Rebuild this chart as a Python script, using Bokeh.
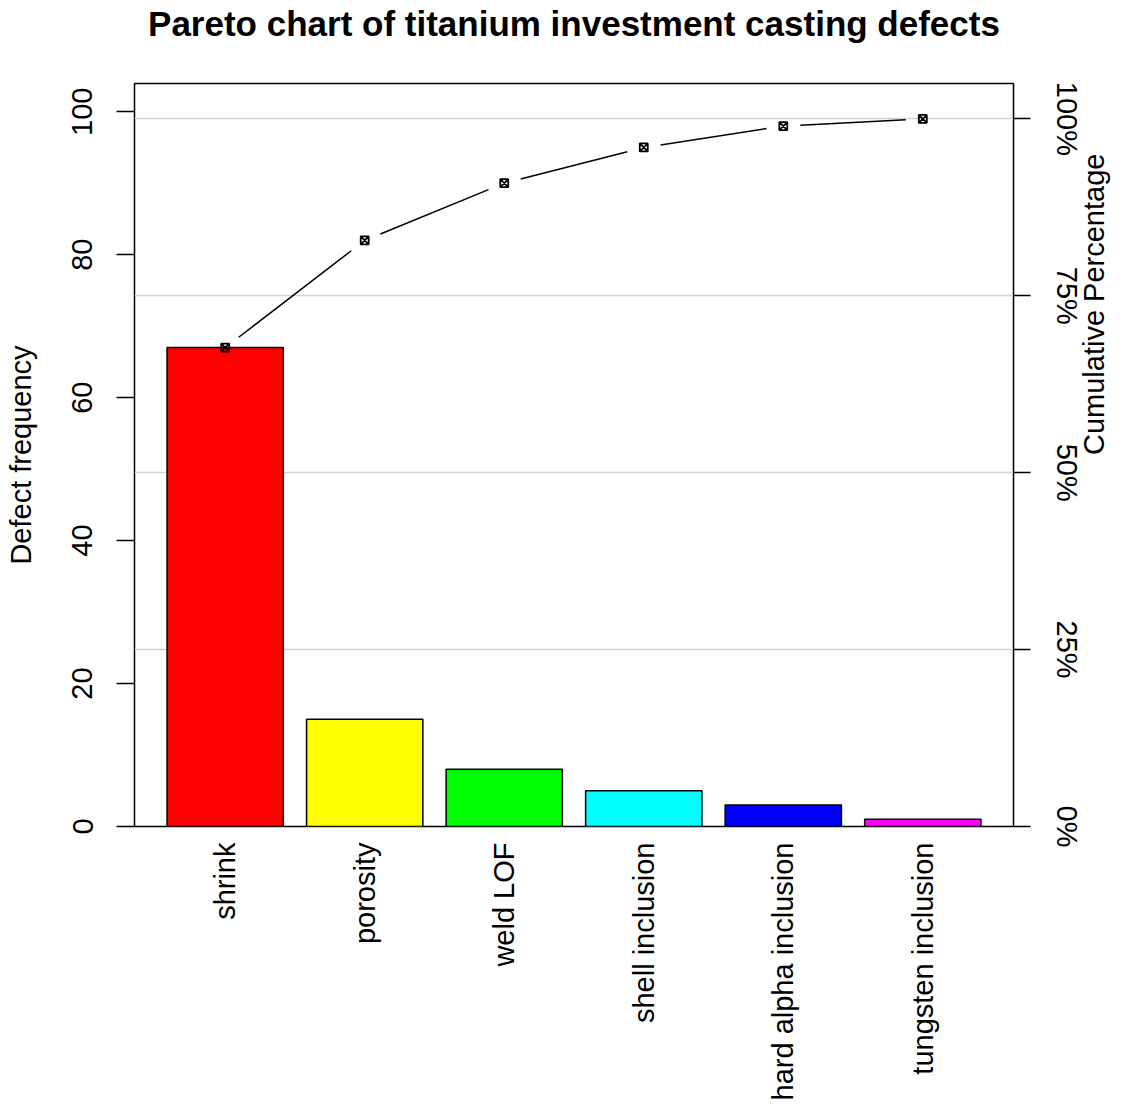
import numpy as np
from bokeh.plotting import figure
from bokeh.models import Range1d, LinearAxis, FixedTicker
from bokeh.embed import file_html
from bokeh.resources import INLINE

# ---------------- data ----------------
title_text = "Pareto chart of titanium investment casting defects"
categories = ["shrink", "porosity", "weld LOF", "shell inclusion",
              "hard alpha inclusion", "tungsten inclusion"]
counts = [67, 15, 8, 5, 3, 1]
bar_colors = ["#FF0000", "#FFFF00", "#00FF00", "#00FFFF", "#0000FF", "#FF00FF"]
freq_ticks = [0, 20, 40, 60, 80, 100]
pct_ticks = [0, 25, 50, 75, 100]
pct_labels = ["0%", "25%", "50%", "75%", "100%"]
y_label = "Defect frequency"
y2_label = "Cumulative Percentage"

# ---------------- layout ----------------
FONT = "Liberation Sans"
FS = "29px"
W, H = 1128, 1104
ML, MT = 134, 83
FRAME_R, FRAME_B = 1013, 826
MR, MB = W - FRAME_R, H - FRAME_B
FW, FH = FRAME_R - ML, FRAME_B - MT

n = len(counts)
total = float(sum(counts))
cum = np.cumsum(counts).astype(float)

# barplot-style positions: width 1, space 0.2
xs = [round(0.7 + 1.2 * i, 2) for i in range(n)]
span_lo, span_hi = 0.2, xs[-1] + 0.5
pad = 0.04 * (span_hi - span_lo)
x_lo, x_hi = span_lo - pad, span_hi + pad
y_lo, y_hi = 0.0, 1.05 * total

p = figure(width=W, height=H,
           x_range=Range1d(x_lo, x_hi), y_range=Range1d(y_lo, y_hi),
           output_backend="svg", toolbar_location=None,
           min_border_left=ML, min_border_right=MR,
           min_border_top=MT, min_border_bottom=MB)
p.background_fill_color = "white"
p.border_fill_color = "white"
p.outline_line_color = "black"
p.outline_line_width = 1.5
p.extra_y_ranges = {"pct": Range1d(0, 105)}

xa = p.below[0]   # bottom axis
ya = p.left[0]    # left axis

# chart title, drawn as the label of a tick-less axis above the frame
ta = LinearAxis(ticker=FixedTicker(ticks=[]), axis_label=title_text)
ta.axis_line_color = None
ta.major_tick_line_color = None
ta.minor_tick_line_color = None
ta.major_tick_out = 0
ta.major_tick_in = 0
ta.major_label_standoff = 0
ta.axis_label_standoff = 41
ta.axis_label_text_font = FONT
ta.axis_label_text_font_size = "35px"
ta.axis_label_text_font_style = "bold"
ta.axis_label_text_color = "black"
p.add_layout(ta, "above")

# grid at cumulative-percentage ticks
p.xgrid.visible = False
p.ygrid[0].ticker = FixedTicker(ticks=[t / 100.0 * total for t in pct_ticks])
p.ygrid[0].grid_line_color = "#d3d3d3"
p.ygrid[0].grid_line_width = 1.5

# left axis
ya.ticker = FixedTicker(ticks=freq_ticks)
ya.axis_line_color = None
ya.major_tick_out = 18
ya.major_tick_in = 0
ya.major_tick_line_width = 1.5
ya.minor_tick_line_color = None
ya.major_label_orientation = "vertical"
ya.major_label_standoff = 24
ya.major_label_text_font = FONT
ya.major_label_text_font_size = FS
ya.major_label_text_color = "black"
ya.axis_label = y_label
ya.axis_label_text_font = FONT
ya.axis_label_text_font_size = FS
ya.axis_label_text_font_style = "normal"
ya.axis_label_text_color = "black"
ya.axis_label_standoff = 33

# bottom axis: category names
xa.ticker = FixedTicker(ticks=xs)
xa.major_label_overrides = {x: c for x, c in zip(xs, categories)}
xa.axis_line_color = None
xa.major_tick_line_color = None
xa.major_tick_out = 0
xa.major_tick_in = 0
xa.minor_tick_line_color = None
xa.major_label_orientation = np.pi / 2
xa.major_label_standoff = 16
xa.major_label_text_font = FONT
xa.major_label_text_font_size = FS
xa.major_label_text_color = "black"

# right axis: cumulative percentage
ra = LinearAxis(y_range_name="pct", ticker=FixedTicker(ticks=pct_ticks))
ra.major_label_overrides = {t: s for t, s in zip(pct_ticks, pct_labels)}
ra.axis_line_color = None
ra.major_tick_out = 17
ra.major_tick_in = 0
ra.major_tick_line_width = 1.5
ra.minor_tick_line_color = None
ra.major_label_orientation = "vertical"
ra.major_label_standoff = 20
ra.major_label_text_font = FONT
ra.major_label_text_font_size = FS
ra.major_label_text_color = "black"
ra.axis_label = y2_label
ra.axis_label_text_font = FONT
ra.axis_label_text_font_size = FS
ra.axis_label_text_font_style = "normal"
ra.axis_label_text_color = "black"
ra.axis_label_standoff = 8
if "axis_label_orientation" in ra.properties():
    ra.axis_label_orientation = np.pi / 2
p.add_layout(ra, "right")

# bars
p.vbar(x=xs, top=counts, bottom=0, width=1.0, fill_color=bar_colors,
       line_color="black", line_width=1.5)

# cumulative line (type "b": segments with gaps around points)
kx = FW / (x_hi - x_lo)
ky = FH / (y_hi - y_lo)
gap = 17.0
sx0, sy0, sx1, sy1 = [], [], [], []
for i in range(n - 1):
    dxp = (xs[i + 1] - xs[i]) * kx
    dyp = (cum[i + 1] - cum[i]) * ky
    L = float(np.hypot(dxp, dyp))
    if L <= 2 * gap:
        continue
    ux, uy = dxp / L, dyp / L
    sx0.append(xs[i] + ux * gap / kx)
    sy0.append(cum[i] + uy * gap / ky)
    sx1.append(xs[i + 1] - ux * gap / kx)
    sy1.append(cum[i + 1] - uy * gap / ky)
p.segment(x0=sx0, y0=sy0, x1=sx1, y1=sy1, line_color="black", line_width=1.5)
p.scatter(x=xs, y=list(cum), marker="square_x", size=8, fill_color=None,
          line_color="black", line_width=1.8)

open("out.html", "w").write(file_html(p, INLINE))
